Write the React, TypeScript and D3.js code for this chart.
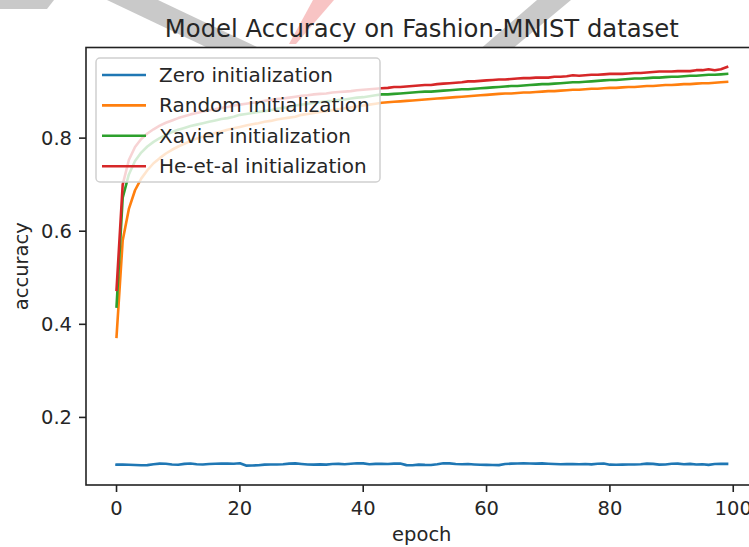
import React from "react";
import * as d3 from "d3";

const title = "Model Accuracy on Fashion-MNIST dataset";
const xLabel = "epoch";
const yLabel = "accuracy";
const xTicks = [0, 20, 40, 60, 80, 100];
const yTicks = [0.2, 0.4, 0.6, 0.8];
const seriesNames = ["Zero initialization", "Random initialization", "Xavier initialization", "He-et-al initialization"];
const seriesColors = ["#1f77b4", "#ff7f0e", "#2ca02c", "#d62728"];

const zeroInit = [
  0.0985, 0.0987, 0.0982, 0.0978, 0.0972, 0.0975, 0.0995, 0.1008, 0.1005, 0.099,
  0.0982, 0.1002, 0.101, 0.0995, 0.0988, 0.0998, 0.1005, 0.1008, 0.101, 0.1006,
  0.1015, 0.0965, 0.0968, 0.0972, 0.0985, 0.099, 0.0988, 0.0995, 0.1008, 0.1012,
  0.1, 0.099, 0.0985, 0.0992, 0.0985, 0.0998, 0.1002, 0.0995, 0.1005, 0.1015,
  0.1012, 0.0995, 0.1002, 0.1005, 0.1, 0.1008, 0.101, 0.0975, 0.0972, 0.0985,
  0.098, 0.0978, 0.0995, 0.1015, 0.1012, 0.1, 0.0995, 0.0998, 0.099, 0.0982,
  0.098, 0.0978, 0.0975, 0.0998, 0.1008, 0.101, 0.1012, 0.101, 0.1008, 0.1012,
  0.1005, 0.1, 0.0995, 0.0998, 0.0996, 0.0994, 0.0998, 0.0992, 0.1005, 0.101,
  0.0985, 0.0982, 0.0985, 0.099, 0.0988, 0.0995, 0.1008, 0.1002, 0.0985, 0.099,
  0.1005, 0.1008, 0.0995, 0.1002, 0.099, 0.0995, 0.098, 0.1, 0.1005, 0.1003,
];

const randomInit = [
  0.373, 0.58, 0.648, 0.688, 0.713, 0.731, 0.746, 0.757, 0.767, 0.775,
  0.782, 0.788, 0.794, 0.799, 0.803, 0.807, 0.811, 0.814, 0.818, 0.821,
  0.824, 0.827, 0.83, 0.832, 0.835, 0.837, 0.84, 0.842, 0.844, 0.846,
  0.85, 0.852, 0.854, 0.856, 0.858, 0.86, 0.862, 0.864, 0.866, 0.868,
  0.87, 0.872, 0.874, 0.876, 0.877, 0.878, 0.879, 0.88, 0.881, 0.882,
  0.883, 0.884, 0.885, 0.886, 0.887, 0.888, 0.889, 0.89, 0.891, 0.892,
  0.893, 0.894, 0.895, 0.896, 0.896, 0.897, 0.898, 0.898, 0.899, 0.9,
  0.901, 0.901, 0.902, 0.903, 0.904, 0.904, 0.905, 0.906, 0.906, 0.907,
  0.908, 0.908, 0.909, 0.91, 0.91, 0.911, 0.912, 0.912, 0.913, 0.914,
  0.914, 0.915, 0.916, 0.916, 0.917, 0.918, 0.918, 0.919, 0.92, 0.921,
];

const xavierInit = [
  0.438, 0.672, 0.722, 0.751, 0.769, 0.782, 0.792, 0.8, 0.807, 0.813,
  0.818, 0.822, 0.826, 0.829, 0.832, 0.835, 0.838, 0.841, 0.843, 0.846,
  0.85, 0.852, 0.854, 0.856, 0.858, 0.86, 0.863, 0.865, 0.867, 0.87,
  0.872, 0.874, 0.876, 0.877, 0.879, 0.88, 0.882, 0.883, 0.885, 0.887,
  0.888, 0.89, 0.892, 0.894, 0.894, 0.895, 0.896, 0.897, 0.898, 0.899,
  0.9, 0.9, 0.901, 0.902, 0.903, 0.904, 0.905, 0.905, 0.906, 0.907,
  0.908, 0.909, 0.91, 0.911, 0.912, 0.912, 0.913, 0.914, 0.915, 0.916,
  0.916, 0.917, 0.918, 0.919, 0.92, 0.92, 0.921, 0.922, 0.923, 0.924,
  0.925, 0.925, 0.926, 0.927, 0.928, 0.928, 0.929, 0.93, 0.93, 0.931,
  0.932, 0.932, 0.933, 0.934, 0.934, 0.935, 0.936, 0.936, 0.937, 0.938,
];

const heInit = [
  0.474, 0.7, 0.753, 0.781, 0.798, 0.81, 0.819, 0.827, 0.833, 0.838,
  0.843, 0.847, 0.851, 0.854, 0.857, 0.86, 0.862, 0.865, 0.867, 0.87,
  0.872, 0.874, 0.876, 0.877, 0.88, 0.882, 0.884, 0.885, 0.887, 0.889,
  0.891, 0.892, 0.894, 0.895, 0.896, 0.898, 0.899, 0.9, 0.901, 0.903,
  0.904, 0.905, 0.906, 0.907, 0.908, 0.91, 0.91, 0.911, 0.912, 0.913,
  0.914, 0.914, 0.916, 0.917, 0.918, 0.919, 0.92, 0.922, 0.922, 0.923,
  0.924, 0.925, 0.926, 0.926, 0.927, 0.928, 0.929, 0.929, 0.93, 0.93,
  0.93, 0.932, 0.932, 0.933, 0.935, 0.934, 0.935, 0.936, 0.936, 0.937,
  0.938, 0.938, 0.938, 0.939, 0.94, 0.94, 0.941, 0.942, 0.943, 0.943,
  0.943, 0.944, 0.944, 0.944, 0.946, 0.946, 0.948, 0.946, 0.948, 0.953,
];

const allSeries = [zeroInit, randomInit, xavierInit, heInit];

const W = 749;
const H = 547;
const FONT = "DejaVu Sans";
const TEXT = "#262626";

export default function App() {
  const x = d3.scaleLinear().domain([-4.95, 103.95]).range([86, 757.6]);
  const y = d3.scaleLinear().domain([0.0548, 0.9947]).range([485, 47.5]);
  const line = d3
    .line<number>()
    .x((_, i) => x(i))
    .y((d) => y(d));

  const left = x.range()[0];
  const right = x.range()[1];
  const top = y.range()[1];
  const bottom = y.range()[0];

  const legendX = 96;
  const legendY = 58;
  const rowH = 30.4;

  return (
    <svg
      width={W}
      height={H}
      style={{ position: "absolute", left: 0, top: 0, background: "#fff" }}
      fontFamily={FONT}
    >
      <rect x={0} y={0} width={W} height={H} fill="#fff" />
      {/* watermark fragments above axes */}
      <polygon points="0,0 54,0 47,9 0,9" fill="#c9c9c9" />
      <polygon points="107,0 158,0 258,47.5 207,47.5" fill="#c9c9c9" />
      <polygon points="537,0 571,0 514,47.5 482,47.5" fill="#c9c9c9" />
      <polygon points="313,0 334,0 296,44 289,44" fill="#f8c4c4" />

      <text x={(left + right) / 2} y={37} textAnchor="middle" fontSize={24.3} fill={TEXT}>
        {title}
      </text>

      <rect x={left} y={top} width={right - left} height={bottom - top} fill="#fff" />

      {allSeries.map((s, k) => (
        <path
          key={k}
          d={line(s) || ""}
          fill="none"
          stroke={seriesColors[k]}
          strokeWidth={2.6}
          strokeLinejoin="round"
          strokeLinecap="square"
        />
      ))}

      {/* spines */}
      <rect x={left} y={top} width={right - left} height={bottom - top} fill="none" stroke="#222" strokeWidth={1.6} />

      {xTicks.map((t) => (
        <g key={t}>
          <line x1={x(t)} x2={x(t)} y1={bottom} y2={bottom + 7} stroke="#222" strokeWidth={1.6} />
          <text x={x(t)} y={515} textAnchor="middle" fontSize={19.5} fill={TEXT}>
            {t}
          </text>
        </g>
      ))}
      {yTicks.map((t) => (
        <g key={t}>
          <line x1={left - 7} x2={left} y1={y(t)} y2={y(t)} stroke="#222" strokeWidth={1.6} />
          <text x={72} y={y(t) + 7} textAnchor="end" fontSize={19.5} fill={TEXT}>
            {t.toFixed(1)}
          </text>
        </g>
      ))}

      <text x={(left + right) / 2} y={541} textAnchor="middle" fontSize={19.5} fill={TEXT}>
        {xLabel}
      </text>
      <text
        transform={`translate(28, ${(top + bottom) / 2}) rotate(-90)`}
        textAnchor="middle"
        fontSize={19.5}
        fill={TEXT}
      >
        {yLabel}
      </text>

      {/* legend */}
      <rect
        x={legendX}
        y={legendY}
        width={284}
        height={124}
        rx={4}
        fill="#fff"
        fillOpacity={0.8}
        stroke="#d0d0d0"
        strokeWidth={1.5}
      />
      {seriesNames.map((n, k) => {
        const cy = legendY + 17 + k * rowH;
        return (
          <g key={n}>
            <line x1={legendX + 6} x2={legendX + 50} y1={cy} y2={cy} stroke={seriesColors[k]} strokeWidth={2.6} />
            <text x={legendX + 63} y={cy + 7} fontSize={20} fill={TEXT}>
              {n}
            </text>
          </g>
        );
      })}
    </svg>
  );
}
